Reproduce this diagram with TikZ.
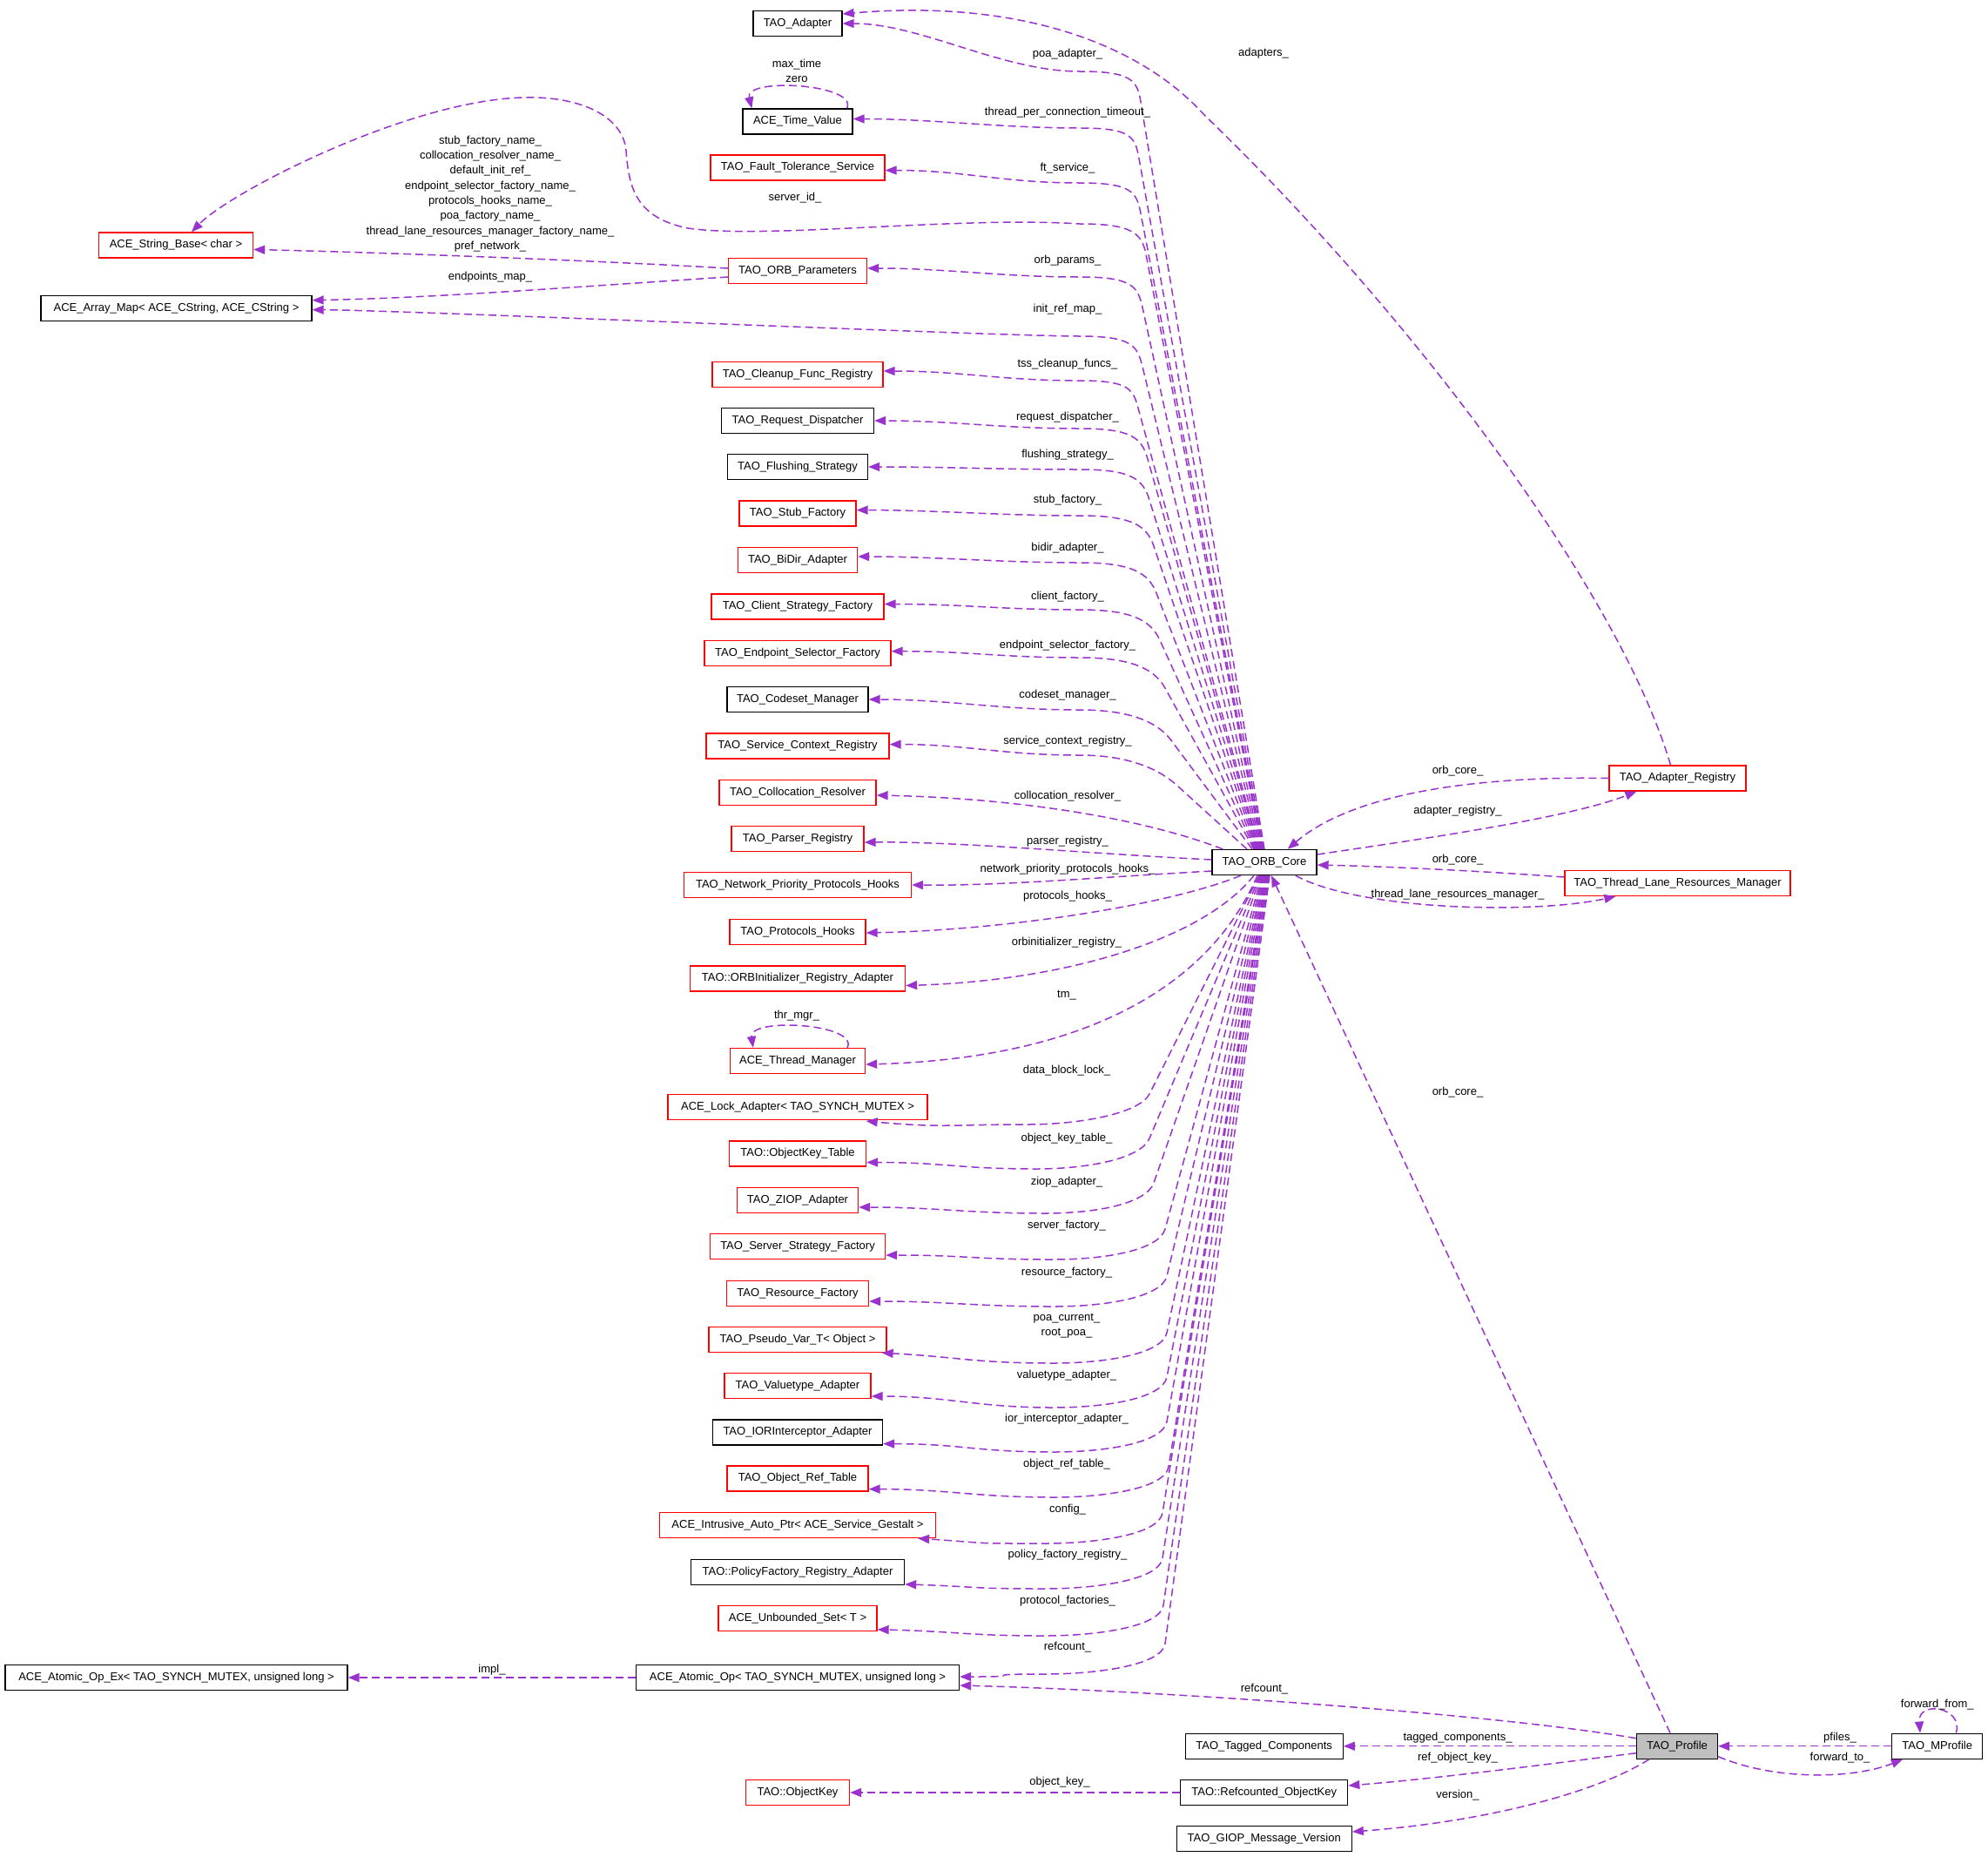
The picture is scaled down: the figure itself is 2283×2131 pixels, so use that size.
\documentclass[tikz,border=0pt]{standalone}
\usepackage{fontspec}
\setmainfont{Liberation Sans}
\usetikzlibrary{arrows.meta,calc}
\definecolor{edgepurple}{HTML}{9A32CD}
\definecolor{profgray}{HTML}{BFBFBF}
% upper edge from core top: #1 target anchor, #2 Wx, #3 Wy, #4 Bx, #5 core dx, #6 P2 dy, #7 target offset
\newcommand{\UpRel}[7]{%
  \path ($(#1)+(#7)$) coordinate (tmpE);
  \draw[rel] ($(nCore.north)+(#5,0)$) coordinate (tmpC) -- (#4,{#3+35}) coordinate (tmpB)
    .. controls ($(tmpB)!-25pt!(tmpC)$) and ({#2+60},#3) .. (#2,#3)
    .. controls ({#2-90},#3) and ($(tmpE)+(90,#6)$) .. (tmpE);}
\newcommand{\DnRel}[7]{%
  \path ($(#1)+(#7)$) coordinate (tmpE);
  \draw[rel] ($(nCore.south)+(#5,0)$) coordinate (tmpC) -- (#4,{#3-35}) coordinate (tmpB)
    .. controls ($(tmpB)!-25pt!(tmpC)$) and ({#2+60},#3) .. (#2,#3)
    .. controls ({#2-90},#3) and ($(tmpE)+(90,#6)$) .. (tmpE);}
\begin{document}
\begin{tikzpicture}[x=1pt,y=-1pt,
  cls/.style={draw=black, line width=1.3pt, fill=white, minimum height=29pt, inner xsep=6pt, inner ysep=0pt, font=\fontsize{13}{15}\selectfont},
  redcls/.style={cls, draw=red},
  lbl/.style={font=\fontsize{13}{15}\selectfont, inner sep=0pt},
  rel/.style={draw=edgepurple, line width=1.5pt, dash pattern=on 9pt off 5pt, -{Triangle[length=13pt,width=10pt,fill=edgepurple]}}]
\useasboundingbox[fill=white] (0,0) rectangle (2283,2131);

% ---- nodes ----
\node[cls, minimum width=102pt] (nAdapter) at (916,27) {TAO\_Adapter};
\node[cls, minimum width=126pt] (nTime) at (916,139.5) {ACE\_Time\_Value};
\node[redcls, minimum width=200pt] (nFT) at (916,192.5) {TAO\_Fault\_Tolerance\_Service};
\node[redcls, minimum width=177pt] (nStrBase) at (202,281.5) {ACE\_String\_Base< char >};
\node[redcls, minimum width=159pt] (nParams) at (916,311) {TAO\_ORB\_Parameters};
\node[cls, minimum width=311pt] (nArrayMap) at (202.5,353.7) {ACE\_Array\_Map< ACE\_CString, ACE\_CString >};
\node[redcls, minimum width=196pt] (nCleanup) at (916,430) {TAO\_Cleanup\_Func\_Registry};
\node[cls, minimum width=175pt] (nReqDisp) at (916,483) {TAO\_Request\_Dispatcher};
\node[cls, minimum width=161pt] (nFlush) at (916,536) {TAO\_Flushing\_Strategy};
\node[redcls, minimum width=134pt] (nStub) at (916,589.6) {TAO\_Stub\_Factory};
\node[redcls, minimum width=137pt] (nBiDir) at (916,643) {TAO\_BiDir\_Adapter};
\node[redcls, minimum width=198pt] (nClient) at (916,696.5) {TAO\_Client\_Strategy\_Factory};
\node[redcls, minimum width=214pt] (nEndpoint) at (916,749.7) {TAO\_Endpoint\_Selector\_Factory};
\node[cls, minimum width=162pt] (nCodeset) at (916,803) {TAO\_Codeset\_Manager};
\node[redcls, minimum width=210pt] (nSvcCtx) at (916,856.6) {TAO\_Service\_Context\_Registry};
\node[redcls, minimum width=180pt] (nColloc) at (916,910) {TAO\_Collocation\_Resolver};
\node[redcls, minimum width=152pt] (nParser) at (916,963) {TAO\_Parser\_Registry};
\node[redcls, minimum width=261pt] (nNetPrio) at (916,1016) {TAO\_Network\_Priority\_Protocols\_Hooks};
\node[redcls, minimum width=156pt] (nProtoHooks) at (916,1070) {TAO\_Protocols\_Hooks};
\node[redcls, minimum width=247pt] (nOrbInit) at (916,1123.5) {TAO::ORBInitializer\_Registry\_Adapter};
\node[redcls, minimum width=155pt] (nThrMgr) at (916,1218) {ACE\_Thread\_Manager};
\node[redcls, minimum width=298pt] (nLock) at (916,1271) {ACE\_Lock\_Adapter< TAO\_SYNCH\_MUTEX >};
\node[redcls, minimum width=157pt] (nOKTable) at (916,1324.5) {TAO::ObjectKey\_Table};
\node[redcls, minimum width=139pt] (nZIOP) at (916,1378) {TAO\_ZIOP\_Adapter};
\node[redcls, minimum width=201pt] (nServer) at (916,1431) {TAO\_Server\_Strategy\_Factory};
\node[redcls, minimum width=163pt] (nResource) at (916,1485) {TAO\_Resource\_Factory};
\node[redcls, minimum width=204pt] (nPseudo) at (916,1538) {TAO\_Pseudo\_Var\_T< Object >};
\node[redcls, minimum width=168pt] (nValuetype) at (916,1591) {TAO\_Valuetype\_Adapter};
\node[cls, minimum width=195pt] (nIOR) at (916,1644.6) {TAO\_IORInterceptor\_Adapter};
\node[redcls, minimum width=162pt] (nObjRef) at (916,1697.6) {TAO\_Object\_Ref\_Table};
\node[redcls, minimum width=317pt] (nIntrusive) at (916,1751) {ACE\_Intrusive\_Auto\_Ptr< ACE\_Service\_Gestalt >};
\node[cls, minimum width=245pt] (nPolicy) at (916,1804.7) {TAO::PolicyFactory\_Registry\_Adapter};
\node[redcls, minimum width=182pt] (nUnbounded) at (916,1857.7) {ACE\_Unbounded\_Set< T >};
\node[cls, minimum width=371pt] (nAtomic) at (916,1926) {ACE\_Atomic\_Op< TAO\_SYNCH\_MUTEX, unsigned long >};
\node[cls, minimum width=393pt] (nAtomicEx) at (202.5,1926) {ACE\_Atomic\_Op\_Ex< TAO\_SYNCH\_MUTEX, unsigned long >};
\node[redcls, minimum width=119pt] (nObjKey) at (916,2058) {TAO::ObjectKey};
\node[cls, minimum width=120pt] (nCore) at (1452,990) {TAO\_ORB\_Core};
\node[redcls, minimum width=157pt] (nAdReg) at (1926.5,893.5) {TAO\_Adapter\_Registry};
\node[redcls, minimum width=259pt] (nTLRM) at (1926.5,1014) {TAO\_Thread\_Lane\_Resources\_Manager};
\node[cls, minimum width=181pt] (nTagged) at (1451.7,2004.7) {TAO\_Tagged\_Components};
\node[cls, minimum width=192pt] (nRefKey) at (1451.7,2058) {TAO::Refcounted\_ObjectKey};
\node[cls, minimum width=201pt] (nGIOP) at (1451.7,2111) {TAO\_GIOP\_Message\_Version};
\node[cls, fill=profgray, minimum width=93pt] (nProfile) at (1926,2004.7) {TAO\_Profile};
\node[cls, minimum width=104pt] (nMProfile) at (2224.7,2004.7) {TAO\_MProfile};

% ---- upper edges from core ----
\UpRel{nAdapter.east}{1240}{82}{1310}{0}{0}{0,0}
\UpRel{nTime.east}{1240}{147}{1308}{-1}{0}{0,-3}
\UpRel{nFT.east}{1240}{210}{1310}{-2}{0}{0,3}
\UpRel{nParams.east}{1240}{318}{1312}{-4}{0}{0,-3}
\UpRel{nArrayMap.east}{1240}{386}{1312}{-5}{0}{0,2}
\UpRel{nCleanup.east}{1240}{437}{1308}{-6}{0}{0,-4}
\UpRel{nReqDisp.east}{1240}{492}{1318}{-7}{0}{0,0}
\UpRel{nFlush.east}{1240}{539}{1320}{-8}{0}{0,0}
\UpRel{nStub.east}{1240}{592}{1325}{-9}{0}{0,-4}
\UpRel{nBiDir.east}{1240}{646}{1328}{-10}{0}{0,-4}
\UpRel{nClient.east}{1240}{700}{1332}{-11}{0}{0,-3}
\UpRel{nEndpoint.east}{1240}{755}{1338}{-12}{0}{0,-2}
\UpRel{nCodeset.east}{1240}{815}{1345}{-14}{0}{0,0}
\UpRel{nSvcCtx.east}{1240}{867}{1352}{-20}{0}{0,-2}
% server_id_
\path ($(nStrBase.north)+(18,0)$) coordinate (tStr);
\draw[rel] ($(nCore.north)+(-3,0)$) coordinate (sC) -- (1316,292) coordinate (sB)
  .. controls ($(sB)!-25pt!(sC)$) and (1300,257) .. (1240,257)
  .. controls (1100,248) and (880,275) .. (790,262)
  .. controls (730,250) and (722,215) .. (719,173)
  .. controls (715,130) and (660,110) .. (601,112)
  .. controls (470,115) and (265,220) .. (tStr);
% near edges
\draw[rel] ($(nCore.north west)+(13,0)$) .. controls (1300,935) and (1150,916) .. ($(nColloc.east)+(0,3)$);
\draw[rel] ($(nCore.west)+(0,-3)$) .. controls (1250,980) and (1100,966) .. ($(nParser.east)+(0,4)$);
\draw[rel] ($(nCore.west)+(0,10)$) .. controls (1250,1008) and (1150,1017) .. (nNetPrio.east);
\draw[rel] ($(nCore.south)+(-27,0)$) .. controls (1340,1040) and (1150,1068) .. ($(nProtoHooks.east)+(0,1)$);
\draw[rel] ($(nCore.south)+(-12,0)$) .. controls (1380,1080) and (1220,1126) .. ($(nOrbInit.east)+(0,8)$);
\draw[rel] ($(nCore.south)+(-8,0)$) .. controls (1390,1130) and (1250,1215) .. ($(nThrMgr.east)+(0,4)$);

% ---- lower edges from core ----
\DnRel{nLock.south east}{1180}{1291}{1320}{-6}{8}{-71,1}
\DnRel{nOKTable.east}{1190}{1342}{1320}{-5}{0}{0,10}
\DnRel{nZIOP.east}{1200}{1393}{1325}{-4}{0}{0,8}
\DnRel{nServer.east}{1210}{1446}{1338}{-3}{0}{0,10}
\DnRel{nResource.east}{1210}{1500}{1340}{-2}{0}{0,9}
\DnRel{nPseudo.south east}{1210}{1565}{1340}{-1}{5}{-6,0}
\DnRel{nValuetype.east}{1210}{1616}{1340}{0}{0}{0,12}
\DnRel{nIOR.east}{1210}{1667}{1340}{1}{0}{0,13}
\DnRel{nObjRef.east}{1210}{1719}{1342}{2}{0}{0,12}
\DnRel{nIntrusive.south east}{1200}{1772}{1335}{3}{6}{-21,0}
\DnRel{nPolicy.south east}{1200}{1824}{1335}{4}{3}{0,-1}
\DnRel{nUnbounded.south east}{1200}{1878}{1336}{5}{2}{0,-2}
\DnRel{nAtomic.east}{1200}{1922}{1338}{6}{0}{0,-1}

% ---- other edges ----
\draw[rel] ($(nAdReg.north)+(-8,0)$) .. controls (1860,680) and (1620,360) .. (1384,133)
  .. controls (1300,40) and (1150,0) .. ($(nAdapter.east)+(0,-11)$);
\draw[rel] (nAdReg.west) .. controls (1720,891) and (1560,905) .. ($(nCore.north east)+(-34,0)$);
\draw[rel] ($(nCore.east)+(0,-9)$) .. controls (1620,965) and (1800,940) .. ($(nAdReg.south west)+(32,0)$);
\draw[rel] ($(nTLRM.west)+(0,-7)$) .. controls (1700,1000) and (1600,995) .. ($(nCore.east)+(0,3)$);
\draw[rel] ($(nCore.south east)+(-25,0)$) .. controls (1560,1045) and (1760,1050) .. ($(nTLRM.south west)+(59,0)$);
\draw[rel] ($(nProfile.north)+(-8,0)$) -- ($(nCore.south)+(8,0)$);
\draw[rel] ($(nProfile.west)+(0,-9)$) .. controls (1700,1965) and (1300,1940) .. ($(nAtomic.east)+(0,9)$);
\draw[rel] (nAtomic.west) -- (nAtomicEx.east);
\draw[rel] (nProfile.west) -- (nTagged.east);
\draw[rel] ($(nProfile.west)+(0,8)$) .. controls (1780,2025) and (1650,2042) .. ($(nRefKey.east)+(0,-8)$);
\draw[rel] ($(nProfile.south west)+(15,0)$) .. controls (1830,2060) and (1700,2092) .. ($(nGIOP.east)+(0,-8)$);
\draw[rel] (nRefKey.west) -- (nObjKey.east);
\draw[rel] (nMProfile.west) -- (nProfile.east);
\draw[rel] ($(nProfile.east)+(0,12)$) .. controls (2040,2045) and (2130,2042) .. ($(nMProfile.south west)+(13,0)$);
\draw[rel] ($(nParams.west)+(0,-3)$) .. controls (700,300) and (450,290) .. ($(nStrBase.east)+(0,5)$);
\draw[rel] ($(nParams.west)+(0,7)$) .. controls (650,330) and (500,342) .. ($(nArrayMap.east)+(0,-9)$);
% self loops
\draw[rel] ($(nTime.north east)+(-7,0)$) .. controls ($(nTime.north east)+(6,-28)$) and ($(nTime.north west)+(2,-36)$) .. ($(nTime.north west)+(11,0)$);
\draw[rel] ($(nThrMgr.north east)+(-21,0)$) .. controls ($(nThrMgr.north east)+(-8,-28)$) and ($(nThrMgr.north west)+(22,-35)$) .. ($(nThrMgr.north west)+(27,0)$);
\draw[rel] ($(nMProfile.north east)+(-31,0)$) .. controls ($(nMProfile.north east)+(-22,-30)$) and ($(nMProfile.north west)+(30,-38)$) .. ($(nMProfile.north west)+(33,0)$);

% ---- labels ----
\node[lbl] (lPoa) at (1226,62) {poa\_adapter\_};
\node[lbl] (lAdapters) at (1451,61) {adapters\_};
\node[lbl, align=center, font=\fontsize{13}{16.7}\selectfont] (lMaxTime) at (915,81.5) {max\_time\\zero};
\node[lbl] (lTpc) at (1226,129) {thread\_per\_connection\_timeout\_};
\node[lbl] (lFt) at (1226,193) {ft\_service\_};
\node[lbl] (lServerId) at (913,227) {server\_id\_};
\node[lbl, align=center, font=\fontsize{13}{17.3}\selectfont] (lNames) at (563,222.5) {stub\_factory\_name\_\\collocation\_resolver\_name\_\\default\_init\_ref\_\\endpoint\_selector\_factory\_name\_\\protocols\_hooks\_name\_\\poa\_factory\_name\_\\thread\_lane\_resources\_manager\_factory\_name\_\\pref\_network\_};
\node[lbl] (lEndpoints) at (563,318) {endpoints\_map\_};
\node[lbl] (lOrbParams) at (1226,299) {orb\_params\_};
\node[lbl] (lInitRef) at (1226,355) {init\_ref\_map\_};
\node[lbl] (lTss) at (1226,418) {tss\_cleanup\_funcs\_};
\node[lbl] (lReq) at (1226,478.7) {request\_dispatcher\_};
\node[lbl] (lFlush) at (1226,522) {flushing\_strategy\_};
\node[lbl] (lStub) at (1226,574.6) {stub\_factory\_};
\node[lbl] (lBidir) at (1226,629.6) {bidir\_adapter\_};
\node[lbl] (lClient) at (1226,685) {client\_factory\_};
\node[lbl] (lEndp) at (1226,741.6) {endpoint\_selector\_factory\_};
\node[lbl] (lCodeset) at (1226,798) {codeset\_manager\_};
\node[lbl] (lSvc) at (1226,851) {service\_context\_registry\_};
\node[lbl] (lColloc) at (1226,914) {collocation\_resolver\_};
\node[lbl] (lParser) at (1226,965.7) {parser\_registry\_};
\node[lbl] (lNetPrio) at (1226,998) {network\_priority\_protocols\_hooks\_};
\node[lbl] (lProtoHooks) at (1226,1029.5) {protocols\_hooks\_};
\node[lbl] (lOrbInit) at (1225,1082) {orbinitializer\_registry\_};
\node[lbl] (lTm) at (1225,1142.5) {tm\_};
\node[lbl] (lThr) at (915,1166) {thr\_mgr\_};
\node[lbl] (lDbl) at (1225,1228.7) {data\_block\_lock\_};
\node[lbl] (lOkt) at (1225,1306.8) {object\_key\_table\_};
\node[lbl] (lZiop) at (1225,1356.8) {ziop\_adapter\_};
\node[lbl] (lServer) at (1225,1406.8) {server\_factory\_};
\node[lbl] (lResource) at (1225,1460.8) {resource\_factory\_};
\node[lbl, align=center, font=\fontsize{13}{17}\selectfont] (lPoaCur) at (1225,1522.5) {poa\_current\_\\root\_poa\_};
\node[lbl] (lValue) at (1225,1578.7) {valuetype\_adapter\_};
\node[lbl] (lIor) at (1225,1628.7) {ior\_interceptor\_adapter\_};
\node[lbl] (lObjRef) at (1225,1681) {object\_ref\_table\_};
\node[lbl] (lConfig) at (1226,1733) {config\_};
\node[lbl] (lPolicy) at (1226,1785) {policy\_factory\_registry\_};
\node[lbl] (lProtoFac) at (1226,1837.7) {protocol\_factories\_};
\node[lbl] (lRefcount1) at (1226,1891) {refcount\_};
\node[lbl] (lImpl) at (565,1916.7) {impl\_};
\node[lbl] (lRefcount2) at (1452,1939) {refcount\_};
\node[lbl] (lTagged) at (1674,1995) {tagged\_components\_};
\node[lbl] (lRefObj) at (1674,2018) {ref\_object\_key\_};
\node[lbl] (lVersion) at (1674,2061) {version\_};
\node[lbl] (lObjKey) at (1217,2046) {object\_key\_};
\node[lbl] (lOrbCore1) at (1674,884.7) {orb\_core\_};
\node[lbl] (lAdReg) at (1674,931) {adapter\_registry\_};
\node[lbl] (lOrbCore2) at (1674,986.7) {orb\_core\_};
\node[lbl] (lTlrm) at (1674,1026.7) {thread\_lane\_resources\_manager\_};
\node[lbl] (lOrbCore3) at (1674,1254) {orb\_core\_};
\node[lbl] (lFwdFrom) at (2224.8,1956.7) {forward\_from\_};
\node[lbl] (lPfiles) at (2113,1995) {pfiles\_};
\node[lbl] (lFwdTo) at (2113,2017.7) {forward\_to\_};
\end{tikzpicture}
\end{document}
